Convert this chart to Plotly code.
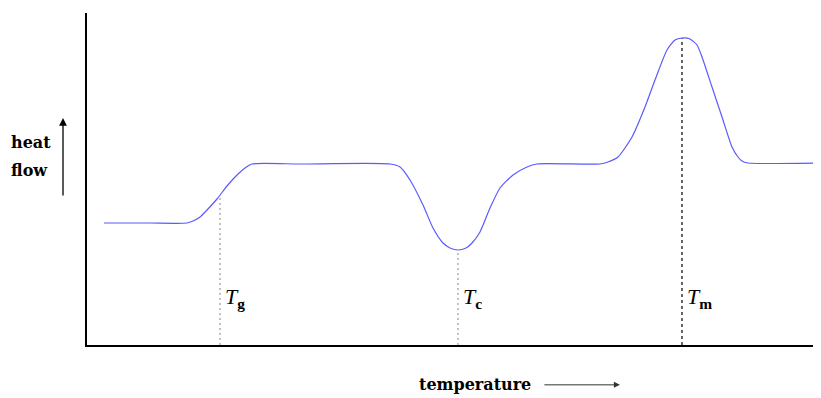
import plotly.graph_objs as go

# DSC curve (arbitrary units)
temperature = [17, 63, 100, 106, 113, 120, 130, 140, 150, 158, 165, 213, 303, 313, 323, 336, 346, 356, 363, 371,
               379, 385, 393, 403, 413, 426, 440, 450, 513, 521, 531, 545, 558, 568, 580, 588, 595, 603, 610, 615,
               625, 635, 645, 651, 655, 661, 734]
heat_flow = [122, 122, 122, 124, 128, 135, 146, 159, 170, 177, 181, 181, 181, 178, 165, 140, 117, 102, 97, 95,
             97, 102, 113, 137, 157, 170, 178, 181, 181, 183, 188, 208, 238, 265, 295, 305, 307, 306, 300, 288,
             258, 228, 198, 188, 184, 182, 182]

transition_names = ["g", "c", "m"]
transition_temps = [133, 371, 595]
transition_heat = [150, 95, 307]
transition_colors = ["#9a9a9a", "#9a9a9a", "#000000"]
transition_dash = ["2px,3px", "2px,3px", "3px,3px"]

serif = "DejaVu Serif"

fig = go.Figure()
for name, t, h, c, d in zip(transition_names, transition_temps, transition_heat, transition_colors, transition_dash):
    fig.add_trace(go.Scatter(x=[t, t], y=[0, h], mode="lines", line={"color": c, "width": 1.2, "dash": d},
                             showlegend=False, hoverinfo="skip"))
    fig.add_annotation(x=t, y=47, text=f"<i>T</i><sub><b>{name}</b></sub>", showarrow=False, xanchor="left", xshift=3,
                       font={"family": "Liberation Serif", "size": 22, "color": "black"})

fig.add_trace(go.Scatter(x=temperature, y=heat_flow, mode="lines", line={"color": "#5a5aff", "width": 1.2, "shape": "spline",
                                                                      "smoothing": 0.6}, showlegend=False))

# axis captions with their arrows
fig.add_annotation(xref="paper", yref="paper", x=-0.106, y=0.61, text="<b>heat</b>", xanchor="left", yanchor="middle",
                   showarrow=False, font={"family": serif, "size": 16, "color": "black"})
fig.add_annotation(xref="paper", yref="paper", x=-0.106, y=0.525, text="<b>flow</b>", xanchor="left", yanchor="middle",
                   showarrow=False, font={"family": serif, "size": 16, "color": "black"})
fig.add_annotation(xref="paper", yref="paper", x=-0.0327, y=0.684, ax=0, ay=79, text="", showarrow=True,
                   arrowhead=2, arrowsize=1.2, arrowwidth=1.3, arrowcolor="black")
fig.add_annotation(xref="paper", yref="paper", x=0.529, y=-0.12, text="<b>temperature</b>", showarrow=False,
                   yanchor="middle", font={"family": serif, "size": 16, "color": "black"})
fig.add_annotation(xref="paper", yref="paper", x=0.726, y=-0.12, ax=-77, ay=0, text="", showarrow=True,
                   arrowhead=2, arrowsize=1.2, arrowwidth=1, arrowcolor="#333333")

# page body has an 8px margin, so the figure is 8px smaller and the margins shrink to match
fig.update_layout(width=813, height=390, paper_bgcolor="white", plot_bgcolor="white",
                  margin=dict(l=79, r=0, t=5, b=53))
fig.update_xaxes(range=[0, 734], showline=True, linecolor="black", linewidth=2, showgrid=False, zeroline=False,
                 showticklabels=False, ticks="")
fig.update_yaxes(range=[0, 332], showline=True, linecolor="black", linewidth=2, showgrid=False, zeroline=False,
                 showticklabels=False, ticks="")
fig.write_html("out.html")
